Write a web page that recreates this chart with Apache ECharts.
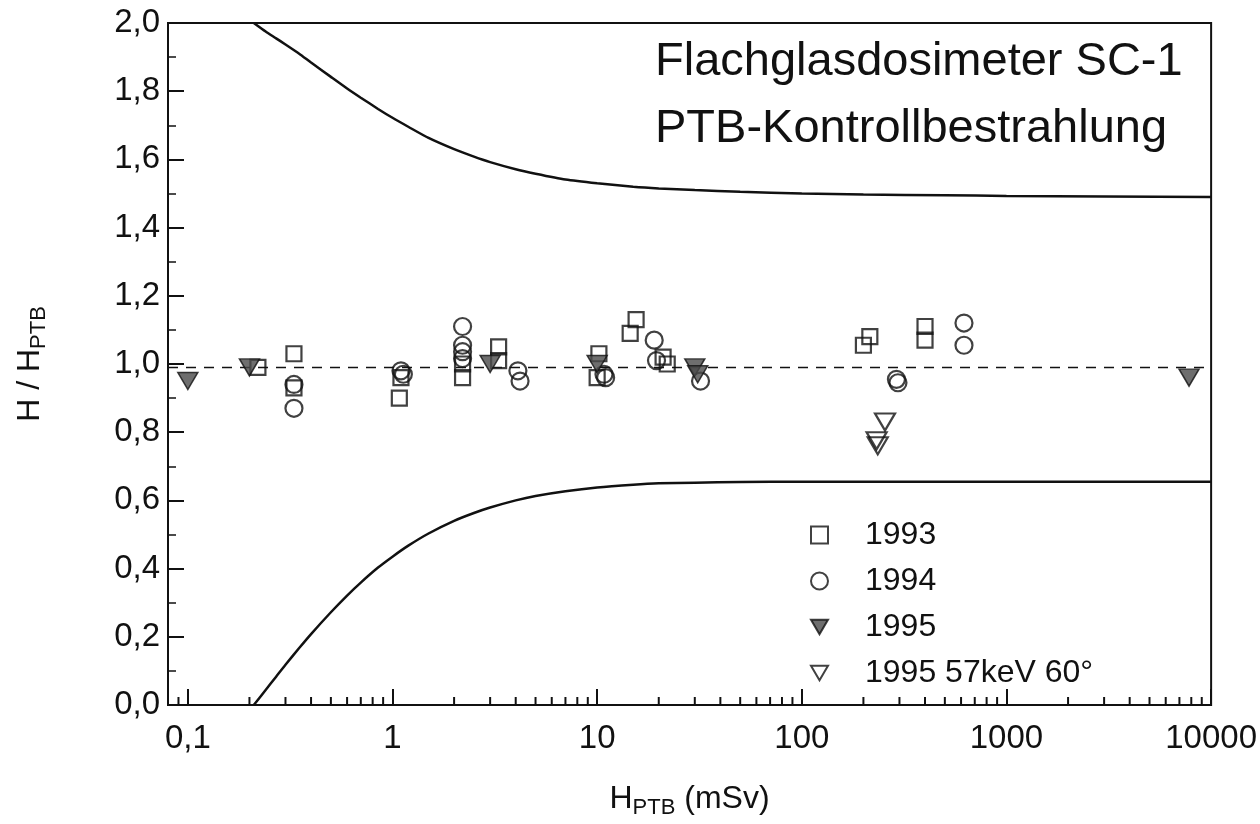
<!DOCTYPE html>
<html>
<head>
<meta charset="utf-8">
<script src="https://cdn.jsdelivr.net/npm/echarts@6/dist/echarts.min.js"></script>
<style>html,body{margin:0;padding:0;background:#fff;}#c{width:1260px;height:824px;}</style>
</head>
<body>
<div id="c"></div>
<script>
// ---- data ----
const xTickValues = [0.1, 1, 10, 100, 1000, 10000];
const xTickLabels = ['0,1', '1', '10', '100', '1000', '10000'];
const xMinorTicks = [0.09, 0.2, 0.3, 0.4, 0.5, 0.6, 0.7, 0.8, 0.9,
  2, 3, 4, 5, 6, 7, 8, 9, 20, 30, 40, 50, 60, 70, 80, 90,
  200, 300, 400, 500, 600, 700, 800, 900, 2000, 3000, 4000, 5000, 6000, 7000, 8000, 9000];

const s1993 = [[0.22, 0.99], [0.33, 1.03], [0.33, 0.93], [1.08, 0.90], [1.1, 0.96], [2.2, 0.96], [2.2, 1.00],
  [3.3, 1.05], [3.3, 1.01], [10.2, 1.03], [10, 0.96], [14.5, 1.09], [15.5, 1.13], [21, 1.02], [22, 1.0],
  [200, 1.055], [215, 1.08], [400, 1.11], [400, 1.07]];
const s1994 = [[0.33, 0.94], [0.33, 0.87], [1.13, 0.97], [1.1, 0.98], [2.2, 1.11], [2.2, 1.055], [2.2, 1.036],
  [2.2, 1.016], [4.1, 0.98], [4.2, 0.95], [11, 0.96], [10.8, 0.97], [19, 1.07], [19.5, 1.01], [32, 0.95],
  [295, 0.945], [290, 0.955], [620, 1.12], [620, 1.055]];
const s1995 = [[0.1, 0.95], [0.2, 0.99], [3.0, 1.0], [10, 1.0], [30, 0.99], [31, 0.97], [7800, 0.96]];
const s1995b = [[255, 0.83], [235, 0.76], [232, 0.775]];

const upperX = [0.21, 0.24, 0.27, 0.3, 0.35, 0.4, 0.5, 0.6, 0.7, 0.85, 1, 1.2, 1.5, 2, 2.5, 3, 4, 5, 7, 10, 15, 20, 30, 50, 100, 200, 500, 1000, 10000];
const upperY = [2.0, 1.975, 1.955, 1.937, 1.91, 1.884, 1.842, 1.808, 1.781, 1.748, 1.722, 1.695, 1.663, 1.63, 1.608, 1.592, 1.571, 1.558, 1.541, 1.53, 1.52, 1.515, 1.51, 1.505, 1.5, 1.497, 1.495, 1.493, 1.49];
const lowerX = [0.21, 0.24, 0.27, 0.3, 0.35, 0.4, 0.5, 0.6, 0.7, 0.85, 1, 1.2, 1.5, 2, 2.5, 3, 4, 5, 7, 10, 15, 20, 30, 50, 100, 1000, 10000];
const lowerY = [0.0, 0.044, 0.083, 0.118, 0.167, 0.208, 0.272, 0.321, 0.359, 0.403, 0.435, 0.468, 0.503, 0.54, 0.563, 0.579, 0.6, 0.613, 0.627, 0.638, 0.646, 0.65, 0.652, 0.654, 0.655, 0.655, 0.655];
const refLevel = 0.99;
const xMin = 0.08, xMax = 10000;

const FONT = "'Liberation Sans', Arial, sans-serif";
const INK = '#111';
const triDown = 'path://M0,0 L20,0 L10,17 Z';

const chart = echarts.init(document.getElementById('c'));
const zip = (xs, ys) => xs.map((x, i) => [x, ys[i]]);
const fmtX = v => {
  for (let i = 0; i < xTickValues.length; i++) {
    if (Math.abs(v - xTickValues[i]) / xTickValues[i] < 1e-6) return xTickLabels[i];
  }
  return '';
};

chart.setOption({
  animation: false,
  backgroundColor: '#fff',
  grid: { left: 168, right: 48, top: 23, bottom: 116, show: true, borderColor: INK, borderWidth: 2, backgroundColor: 'transparent' },
  xAxis: {
    type: 'log', min: xMin, max: xMax, logBase: 10,
    axisLine: { lineStyle: { color: INK, width: 2 } },
    axisTick: { inside: true, length: 16, lineStyle: { color: INK, width: 2 } },
    axisLabel: { formatter: fmtX, color: INK, fontFamily: FONT, fontSize: 33, margin: 17, showMinLabel: false },
    splitLine: { show: false },
    minorTick: { show: false },
    name: '{m|H}{s|PTB}{m| (mSv)}',
    nameLocation: 'middle', nameGap: 74,
    nameTextStyle: { rich: { m: { fontFamily: FONT, fontSize: 32, color: INK }, s: { fontFamily: FONT, fontSize: 22, color: INK, padding: [18, 0, 0, 0] } } }
  },
  yAxis: {
    type: 'value', min: 0, max: 2, interval: 0.2,
    axisLine: { show: true, lineStyle: { color: INK, width: 2 } },
    axisTick: { show: true, inside: true, length: 16, lineStyle: { color: INK, width: 2 } },
    minorTick: { show: true, splitNumber: 2, length: 8, lineStyle: { color: INK, width: 1.5 } },
    axisLabel: { formatter: v => v.toFixed(1).replace('.', ','), color: INK, fontFamily: FONT, fontSize: 33, margin: 8 },
    splitLine: { show: false },
    name: '{m|H / H}{s|PTB}',
    nameLocation: 'middle', nameRotate: 90, nameGap: 118,
    nameTextStyle: { rich: { m: { fontFamily: FONT, fontSize: 32, color: INK }, s: { fontFamily: FONT, fontSize: 22, color: INK, padding: [18, 0, 0, 0] } } }
  },
  legend: {
    data: ['1993', '1994', '1995', '1995 57keV 60°'],
    orient: 'vertical', left: 805, top: 514,
    itemWidth: 17, itemHeight: 17, itemGap: 14,
    textStyle: { fontFamily: FONT, fontSize: 32, color: INK, lineHeight: 32, padding: [0, 0, 0, 32] }
  },
  graphic: [
    { type: 'text', left: 655, top: 39, style: { text: 'Flachglasdosimeter SC-1', font: '47px ' + FONT, fill: INK } },
    { type: 'text', left: 655, top: 106, style: { text: 'PTB-Kontrollbestrahlung', font: '47px ' + FONT, fill: INK } }
  ],
  series: [
    { type: 'line', name: 'upper', data: zip(upperX, upperY), symbol: 'none', smooth: 0.2, lineStyle: { color: INK, width: 2.5 }, z: 3 },
    { type: 'line', name: 'lower', data: zip(lowerX, lowerY), symbol: 'none', smooth: 0.2, lineStyle: { color: INK, width: 2.5 }, z: 3 },
    { type: 'line', name: 'ref', data: [[xMin, refLevel], [xMax, refLevel]], symbol: 'none', lineStyle: { color: INK, width: 1.5, type: [10, 8] }, z: 2 },
    {
      type: 'custom', name: 'minorTicks', data: xMinorTicks.map(v => [v, 0]), clip: false, silent: true, z: 5,
      renderItem: (params, api) => {
        const p = api.coord([api.value(0), 0]);
        return { type: 'line', shape: { x1: p[0], y1: p[1], x2: p[0], y2: p[1] - 8 }, style: { stroke: INK, lineWidth: 2 } };
      }
    },
    { type: 'scatter', name: '1993', data: s1993, symbol: 'rect', symbolSize: 15,
      itemStyle: { color: 'rgba(255,255,255,0)', borderColor: INK, borderWidth: 2.2 }, z: 6 },
    { type: 'scatter', name: '1994', data: s1994, symbol: 'circle', symbolSize: 17,
      itemStyle: { color: 'rgba(255,255,255,0)', borderColor: INK, borderWidth: 2.2 }, z: 6 },
    { type: 'scatter', name: '1995', data: s1995, symbol: triDown, symbolSize: [20, 17],
      itemStyle: { color: '#4a4a4a', borderColor: '#111', borderWidth: 1.5 }, z: 7 },
    { type: 'scatter', name: '1995 57keV 60°', data: s1995b, symbol: triDown, symbolSize: [20, 17],
      itemStyle: { color: 'rgba(255,255,255,0)', borderColor: INK, borderWidth: 2.2 }, z: 7 }
  ]
});
</script>
</body>
</html>
